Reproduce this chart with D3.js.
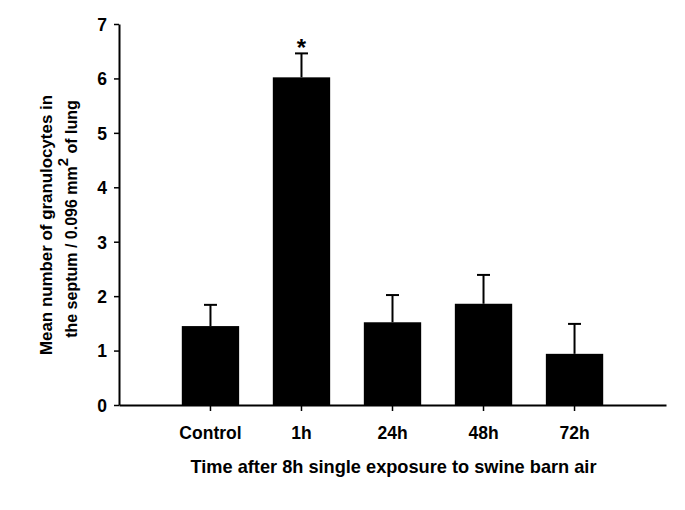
<!DOCTYPE html>
<html>
<head>
<meta charset="utf-8">
<script src="https://cdn.jsdelivr.net/npm/d3@7"></script>
<style>
  html, body { margin: 0; padding: 0; background: #fff; }
  text { font-family: "Liberation Sans", Arial, sans-serif; font-weight: bold; fill: #000; }
</style>
</head>
<body>
<svg id="chart" width="685" height="510"></svg>
<script>
const categories = ["Control", "1h", "24h", "48h", "72h"];
const means = [1.45, 6.02, 1.52, 1.86, 0.94];
const errors = [0.39, 0.44, 0.50, 0.53, 0.55];
const significant = [false, true, false, false, false];
const yTicks = [0, 1, 2, 3, 4, 5, 6, 7];
const xTitle = "Time after 8h single exposure to swine barn air";
const yTitle1 = "Mean number of granulocytes in";
const yTitle2a = "the septum / 0.096 mm";
const yTitle2sup = "2";
const yTitle2b = " of lung";

const svg = d3.select("#chart");

const x = d3.scaleBand().domain(categories).range([119, 666])
  .paddingInner(0.37).paddingOuter(0.69).align(0.5);
const y = d3.scaleLinear().domain([0, 7]).range([405, 24]);

// bars
svg.append("g").selectAll("rect").data(categories).join("rect")
  .attr("x", d => x(d))
  .attr("y", (d, i) => y(means[i]))
  .attr("width", x.bandwidth())
  .attr("height", (d, i) => y(0) - y(means[i]))
  .attr("fill", "#000");

// error bars
const eg = svg.append("g").attr("stroke", "#000").attr("stroke-width", 2);
categories.forEach((c, i) => {
  const cx = x(c) + x.bandwidth() / 2;
  eg.append("line").attr("x1", cx).attr("x2", cx)
    .attr("y1", y(means[i])).attr("y2", y(means[i] + errors[i]));
  eg.append("line").attr("x1", cx - 6.5).attr("x2", cx + 6.5)
    .attr("y1", y(means[i] + errors[i])).attr("y2", y(means[i] + errors[i]));
  if (significant[i]) {
    svg.append("text").attr("x", cx).attr("y", y(means[i] + errors[i]) + 3)
      .attr("text-anchor", "middle").style("font-size", "24px").text("*");
  }
});

// y axis
const yAxis = svg.append("g").attr("transform", "translate(119,0)")
  .call(d3.axisLeft(y).tickValues(yTicks).tickFormat(d3.format("d")).tickSize(5).tickSizeOuter(0));
yAxis.select(".domain").attr("stroke-width", 2);
yAxis.selectAll(".tick line").attr("stroke-width", 1.5);
yAxis.selectAll(".tick text").attr("x", -12).attr("dy", "0.36em")
  .style("font-size", "17.5px").style("font-family", null);

// x axis
const xAxis = svg.append("g").attr("transform", "translate(0,405)")
  .call(d3.axisBottom(x).tickSize(6).tickSizeOuter(0));
xAxis.select(".domain").attr("stroke-width", 2);
xAxis.selectAll(".tick line").attr("stroke-width", 1.5);
xAxis.selectAll(".tick text").attr("y", 33.5).attr("dy", null)
  .style("font-size", "17.5px").style("font-family", null);
svg.selectAll(".domain, .tick line").attr("stroke", "#000");

// x title
svg.append("text").attr("x", 393.5).attr("y", 472.5)
  .attr("text-anchor", "middle").style("font-size", "18.2px").text(xTitle);

// y title
svg.append("text").attr("transform", `translate(52,225) rotate(-90)`)
  .attr("text-anchor", "middle").style("font-size", "16.9px").text(yTitle1);
const t2 = svg.append("text").attr("transform", `translate(77,219) rotate(-90)`)
  .attr("text-anchor", "middle").style("font-size", "16px");
t2.append("tspan").text(yTitle2a);
t2.append("tspan").attr("dy", "-0.6em").style("font-size", "15px").text(yTitle2sup);
t2.append("tspan").attr("dy", "0.56em").text(yTitle2b);
</script>
</body>
</html>
